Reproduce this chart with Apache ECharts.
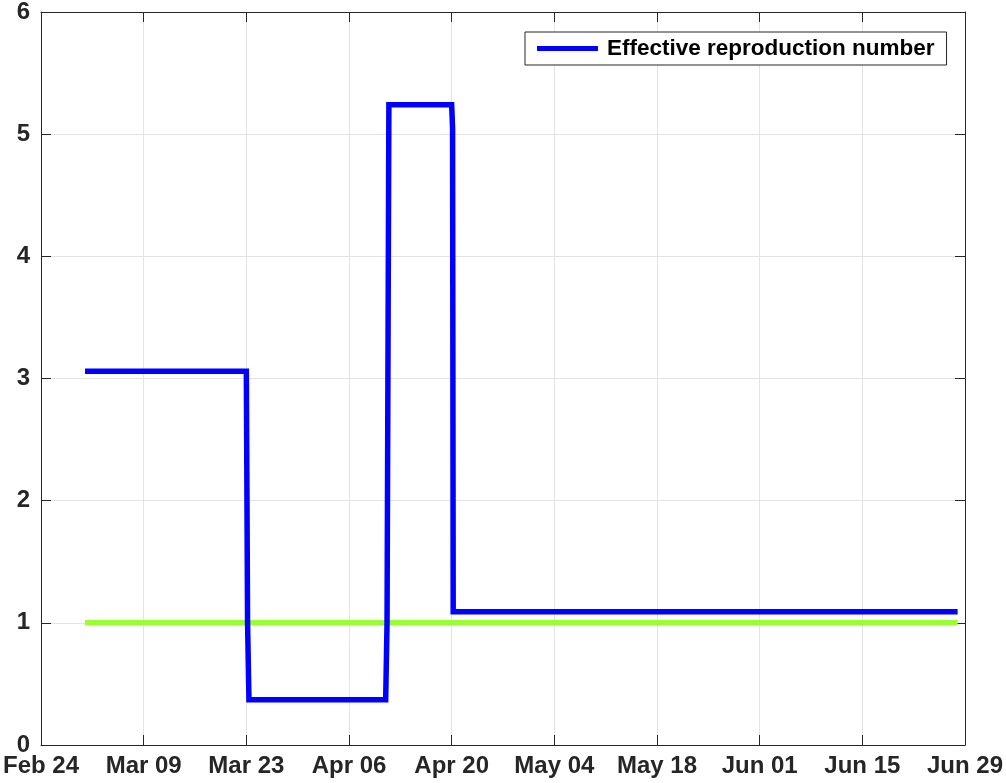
<!DOCTYPE html>
<html>
<head>
<meta charset="utf-8">
<script src="https://cdn.jsdelivr.net/npm/echarts@6/dist/echarts.min.js"></script>
<style>
html,body{margin:0;padding:0;background:#fff;}
#chart{width:1006px;height:783px;}
</style>
</head>
<body>
<div id="chart"></div>
<script>
// ---- data ----
const axisStart = '2020-02-24T00:00:00Z';
const axisEnd = '2020-06-29T00:00:00Z';
const tickStepDays = 14;
const seriesName = 'Effective reproduction number';
const rtTimes = [
  '2020-03-01T00:00:00Z', '2020-03-23T00:00:00Z', '2020-03-23T04:00:00Z', '2020-03-23T08:30:00Z',
  '2020-04-11T00:00:00Z', '2020-04-11T04:30:00Z', '2020-04-11T10:30:00Z',
  '2020-04-20T00:00:00Z', '2020-04-20T03:00:00Z', '2020-04-20T05:00:00Z', '2020-06-28T00:00:00Z'
];
const rtValues = [3.06, 3.06, 1.0, 0.37, 0.37, 1.0, 5.24, 5.24, 5.05, 1.09, 1.09];
const thresholdTimes = ['2020-03-01T00:00:00Z', '2020-06-28T00:00:00Z'];
const thresholdValues = [1, 1];
const yTicks = [0, 1, 2, 3, 4, 5, 6];
const monthNames = ['Jan','Feb','Mar','Apr','May','Jun','Jul','Aug','Sep','Oct','Nov','Dec'];

// ---- helpers ----
const DAY = 86400000;
const base = Date.parse(axisStart);
const toDay = s => (Date.parse(s) - base) / DAY;
const xMax = toDay(axisEnd);
const fmtDay = v => {
  const d = new Date(base + Math.round(v) * DAY);
  const dd = d.getUTCDate();
  return monthNames[d.getUTCMonth()] + ' ' + (dd < 10 ? '0' + dd : dd);
};
const rtData = rtTimes.map((t, i) => [toDay(t), rtValues[i]]);
const thrData = thresholdTimes.map((t, i) => [toDay(t), thresholdValues[i]]);

const FONT = '"Liberation Sans", Arial, Helvetica, sans-serif';
const AX = '#262626';
const GRID = '#e3e3e3';

const chart = echarts.init(document.getElementById('chart'), null, {renderer: 'canvas'});
chart.setOption({
  animation: false,
  backgroundColor: '#ffffff',
  grid: {left: 41, right: 40, top: 12, bottom: 38, containLabel: false},
  legend: {
    data: [seriesName],
    left: 525, top: 32,
    orient: 'horizontal',
    backgroundColor: '#ffffff',
    borderColor: '#262626', borderWidth: 1, borderRadius: 0,
    padding: [5, 12, 5, 12],
    icon: 'rect', itemWidth: 61, itemHeight: 5,
    textStyle: {fontFamily: FONT, fontWeight: 'bold', fontSize: 22.5, color: '#000', padding: [0, 0, 0, 4]}
  },
  xAxis: [{
    type: 'value', min: 0, max: xMax, interval: tickStepDays,
    axisLine: {show: true, lineStyle: {color: AX, width: 1}},
    axisTick: {show: true, inside: true, length: 10, lineStyle: {color: AX}},
    axisLabel: {formatter: fmtDay, fontFamily: FONT, fontWeight: 'bold', fontSize: 24, color: AX, margin: 9, hideOverlap: false, showMinLabel: true, showMaxLabel: true},
    splitLine: {show: true, lineStyle: {color: GRID, width: 1}}
  }, {
    type: 'value', position: 'top', min: 0, max: xMax, interval: tickStepDays,
    axisLine: {show: true, onZero: false, lineStyle: {color: AX, width: 1}},
    axisTick: {show: true, inside: true, length: 10, lineStyle: {color: AX}},
    axisLabel: {show: false}, splitLine: {show: false}
  }],
  yAxis: [{
    type: 'value', min: yTicks[0], max: yTicks[yTicks.length - 1], interval: 1,
    axisLine: {show: true, lineStyle: {color: AX, width: 1}},
    axisTick: {show: true, inside: true, length: 10, lineStyle: {color: AX}},
    axisLabel: {fontFamily: FONT, fontWeight: 'bold', fontSize: 24, color: AX, margin: 11},
    splitLine: {show: true, lineStyle: {color: GRID, width: 1}}
  }, {
    type: 'value', position: 'right', min: yTicks[0], max: yTicks[yTicks.length - 1], interval: 1,
    axisLine: {show: true, onZero: false, lineStyle: {color: AX, width: 1}},
    axisTick: {show: true, inside: true, length: 10, lineStyle: {color: AX}},
    axisLabel: {show: false}, splitLine: {show: false}
  }],
  series: [{
    name: 'threshold', type: 'line', data: thrData, showSymbol: false, symbol: 'none',
    lineStyle: {color: '#99ff33', width: 5.5, cap: 'butt'}, z: 2, silent: true
  }, {
    name: seriesName, type: 'line', data: rtData, showSymbol: false, symbol: 'none',
    color: '#0000ff',
    lineStyle: {color: '#0000ff', width: 5.5, cap: 'butt', join: 'miter'}, z: 3, silent: true
  }]
});
</script>
</body>
</html>
